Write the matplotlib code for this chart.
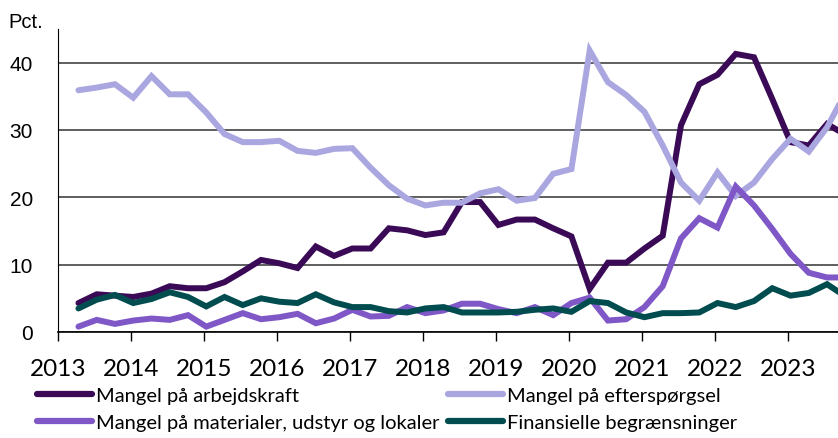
import numpy as np
import matplotlib
matplotlib.use("Agg")
import matplotlib.pyplot as plt

# quarterly survey, 2013 Q2 onwards (last point sits just past the right edge)
arbejdskraft = [4.3, 5.6, 5.4, 5.2, 5.7, 6.8, 6.5, 6.5, 7.4, 9.0, 10.7, 10.2, 9.5, 12.7,
                11.3, 12.4, 12.4, 15.4, 15.1, 14.4, 14.8, 19.3, 19.3, 15.9, 16.7, 16.7,
                15.4, 14.2, 6.4, 10.3, 10.3, 12.4, 14.3, 30.7, 36.8, 38.2, 41.3, 40.8,
                34.6, 28.2, 27.7, 30.9, 29.3]
efterspoergsel = [35.9, 36.3, 36.8, 34.8, 38.0, 35.3, 35.3, 32.6, 29.4, 28.2, 28.2, 28.4,
                  26.9, 26.6, 27.2, 27.3, 24.4, 21.8, 19.8, 18.8, 19.2, 19.2, 20.6, 21.2,
                  19.5, 19.9, 23.5, 24.2, 41.8, 37.1, 35.2, 32.7, 27.7, 22.2, 19.5, 23.7,
                  20.2, 22.2, 25.7, 28.7, 26.8, 30.4, 35.5]
materialer = [0.8, 1.8, 1.2, 1.7, 2.0, 1.8, 2.5, 0.8, 1.8, 2.8, 1.9, 2.2, 2.7, 1.3, 2.0,
              3.3, 2.3, 2.4, 3.7, 2.8, 3.2, 4.2, 4.2, 3.4, 2.8, 3.7, 2.5, 4.3, 5.1, 1.7,
              1.9, 3.7, 6.8, 13.9, 16.9, 15.5, 21.6, 18.8, 15.3, 11.6, 8.8, 8.1, 8.1]
finansielle = [3.5, 4.8, 5.5, 4.3, 4.9, 5.9, 5.2, 3.8, 5.2, 4.0, 5.0, 4.5, 4.3, 5.6, 4.4,
               3.7, 3.7, 3.1, 2.9, 3.5, 3.7, 2.9, 2.9, 2.9, 3.0, 3.3, 3.5, 3.0, 4.6, 4.3,
               2.9, 2.2, 2.8, 2.8, 2.9, 4.3, 3.7, 4.6, 6.5, 5.4, 5.8, 7.1, 5.3]

labels = ["Mangel på arbejdskraft", "Mangel på efterspørgsel",
          "Mangel på materialer, udstyr og lokaler", "Finansielle begrænsninger"]
colors = ["#3b0a57", "#aaa6e0", "#7f57c7", "#004c4e"]
years = list(range(2013, 2024))

narrow = ["Lato", "DejaVu Sans"]
plt.rcParams["font.family"] = ["Liberation Sans", "DejaVu Sans"]

x = 2013.28 + 0.25 * np.arange(len(arbejdskraft))

fig = plt.figure(figsize=(8.38, 4.39), dpi=100)
ax = fig.add_axes([58 / 838, 1 - 333 / 439, 1 - 58 / 838, 303 / 439])

series = [arbejdskraft, efterspoergsel, materialer, finansielle]
handles = []
for vals, col, lab in zip(series, colors, labels):
    h, = ax.plot(x, vals, color=col, lw=4.3, label=lab, solid_joinstyle="miter",
                 solid_capstyle="round", zorder=3)
    handles.append(h)

ax.set_xlim(2013, 2023.68)
ax.set_ylim(0, 45)
ax.set_yticks([0, 10, 20, 30, 40])
ax.grid(axis="y", color="#333333", lw=1.1)
ax.set_axisbelow(True)
for s in ["top", "right"]:
    ax.spines[s].set_visible(False)
ax.spines["left"].set_color("black")
ax.spines["bottom"].set_color("black")
ax.spines["bottom"].set_linewidth(1.2)

ax.set_xticks(years)
ax.set_xticklabels([str(y) for y in years], fontfamily=narrow, fontsize=17.5)
ax.tick_params(axis="x", direction="out", length=6.5, width=1, pad=12)
ax.tick_params(axis="y", length=0, pad=18, labelsize=15)

fig.text(8 / 838, 1 - 22 / 439, "Pct.", fontsize=14.5, va="center", ha="left")

# two separate legends so the second column starts where it does in the original
legkw = dict(loc="upper left", frameon=False, prop={"family": narrow, "size": 14.5},
             handlelength=2.75, handletextpad=0.2, labelspacing=0.5,
             borderaxespad=0, borderpad=0)
leg1 = fig.legend(handles=[handles[0], handles[2]], bbox_to_anchor=(37 / 838, 1 - 388 / 439), **legkw)
leg2 = fig.legend(handles=[handles[1], handles[3]], bbox_to_anchor=(448 / 838, 1 - 388 / 439), **legkw)
for lg in (leg1, leg2):
    for h in lg.get_lines():
        h.set_linewidth(4.5)

fig.savefig("out.png", dpi=100)
